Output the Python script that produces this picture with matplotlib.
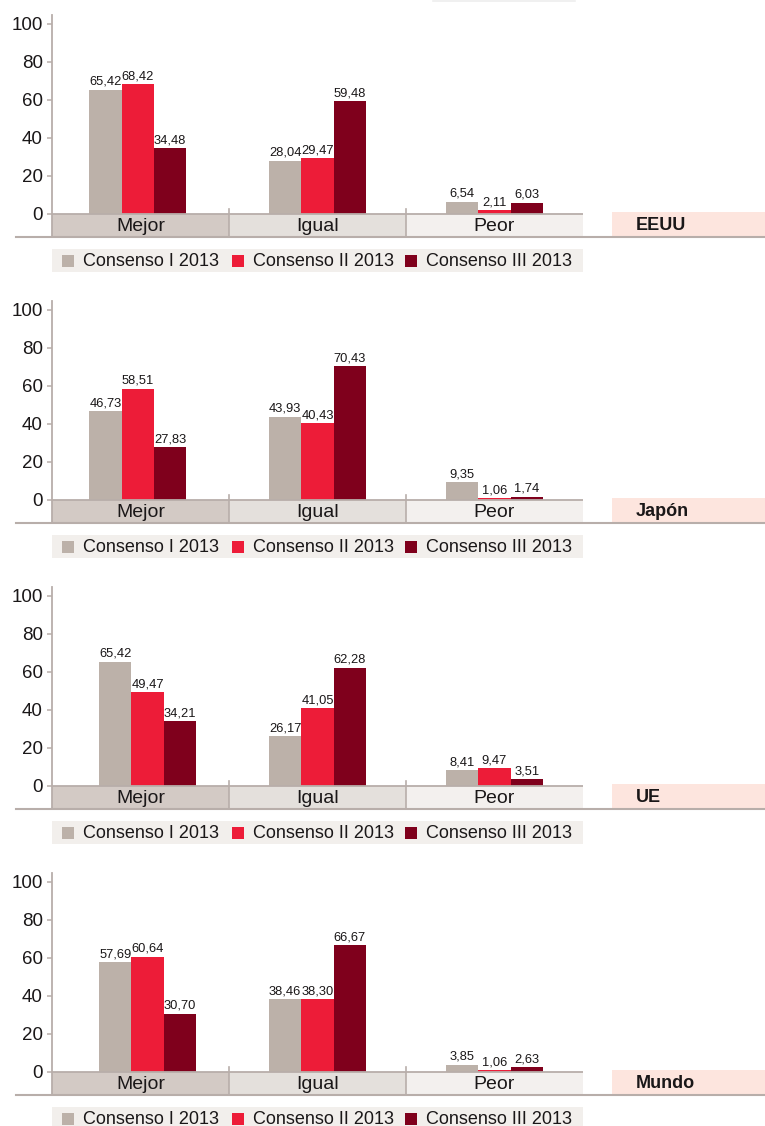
import matplotlib
matplotlib.use("Agg")
import matplotlib.pyplot as plt
from matplotlib.patches import Rectangle
from matplotlib.lines import Line2D

# ---------------- data ----------------
regions = ["EEUU", "Japón", "UE", "Mundo"]
categories = ["Mejor", "Igual", "Peor"]
series = ["Consenso I 2013", "Consenso II 2013", "Consenso III 2013"]
yticks = [0, 20, 40, 60, 80, 100]

eeuu = [[65.42, 28.04, 6.54], [68.42, 29.47, 2.11], [34.48, 59.48, 6.03]]
japon = [[46.73, 43.93, 9.35], [58.51, 40.43, 1.06], [27.83, 70.43, 1.74]]
ue = [[65.42, 26.17, 8.41], [49.47, 41.05, 9.47], [34.21, 62.28, 3.51]]
mundo = [[57.69, 38.46, 3.85], [60.64, 38.30, 1.06], [30.70, 66.67, 2.63]]
panel_values = [eeuu, japon, ue, mundo]

# ---------------- style ----------------
bar_colors = ["#bcb1a9", "#ed1c38", "#7f001c"]
band_colors = ["#d3cac5", "#e4e0dc", "#f3f0ee"]
legend_bg = "#f2efec"
pink = "#fde5de"
axis_gray = "#b8aeaa"
text_col = "#1a1718"
MAIN = ["Liberation Sans", "DejaVu Sans"]

W, H = 765, 1126
fig = plt.figure(figsize=(W / 100, H / 100), dpi=100)
fig.patch.set_facecolor("white")

def fx(px):
    return px / W

def fy(py):
    return 1 - py / H

# faint remnant box at very top
fig.add_artist(Line2D([fx(433), fx(575)], [fy(0.8), fy(0.8)], color="#eeeeee", lw=1.2))

px_per_unit = 1.9
x_left, x_right = 52, 583
group_centers = [[0.485, 1.5, 2.5], [0.485, 1.5, 2.5], [0.54, 1.5, 2.5], [0.54, 1.5, 2.5]]
bw = 0.183

for p, (region, vals) in enumerate(zip(regions, panel_values)):
    y0 = 214 + 286 * p
    top_px = y0 - 199
    bot_px = y0 + 23
    ax = fig.add_axes([fx(x_left), fy(bot_px), fx(x_right - x_left), (bot_px - top_px) / H])
    ylo = -23 / px_per_unit
    yhi = 199 / px_per_unit
    ax.set_xlim(0, 3)
    ax.set_ylim(ylo, yhi)
    ax.patch.set_alpha(0)
    for s in ["top", "right", "bottom"]:
        ax.spines[s].set_visible(False)
    ax.spines["left"].set_color(axis_gray)
    ax.spines["left"].set_linewidth(1.3)
    ax.set_xticks([])
    ax.set_yticks(yticks)
    ax.set_yticklabels([str(t) for t in yticks], fontfamily=MAIN, fontsize=13.5, color=text_col)
    ax.tick_params(axis="y", length=3.5, width=1.1, color=axis_gray, pad=3)

    # category bands
    for i, cat in enumerate(categories):
        ax.add_patch(Rectangle((i, ylo), 1, -ylo, facecolor=band_colors[i], edgecolor="none", zorder=0))
        ax.text(i + 0.5, ylo / 2 - 0.6, cat, ha="center", va="center", fontsize=14,
                family=MAIN, color=text_col)
    for xs in [1, 2]:
        ax.plot([xs, xs], [ylo, 2.7], color=axis_gray, lw=1.2, clip_on=False, zorder=3)
    ax.axhline(0, color=axis_gray, lw=1.3, zorder=3)

    # bars
    centers = group_centers[p]
    for k in range(3):
        xs = [c + (k - 1) * bw for c in centers]
        bars = ax.bar(xs, vals[k], width=bw, color=bar_colors[k], zorder=2, linewidth=0)
        for b, v in zip(bars, vals[k]):
            ax.text(b.get_x() + b.get_width() / 2, v + 1.0, f"{v:.2f}".replace(".", ","),
                    ha="center", va="bottom", fontsize=9.3, family=MAIN, color=text_col)

    # bottom line
    fig.add_artist(Line2D([fx(16), fx(765)], [fy(bot_px), fy(bot_px)], color=axis_gray, lw=1.5))
    # region label box
    fig.add_artist(Rectangle((fx(612), fy(bot_px)), fx(765 - 612), (bot_px - (y0 - 2)) / H,
                             facecolor=pink, edgecolor="none"))
    fig.text(fx(636), fy(y0 + 12), region, ha="left", va="center", fontsize=13,
             fontweight="bold", family=MAIN, color=text_col)

    # legend
    ly_top, ly_bot = y0 + 35, y0 + 58
    fig.add_artist(Rectangle((fx(52), fy(ly_bot)), fx(583 - 52), (ly_bot - ly_top) / H,
                             facecolor=legend_bg, edgecolor="none"))
    lc = (ly_top + ly_bot) / 2
    mk_x = [62, 232, 405]
    for k, name in enumerate(series):
        fig.add_artist(Rectangle((fx(mk_x[k]), fy(lc + 6)), fx(12), 12 / H,
                                 facecolor=bar_colors[k], edgecolor="none"))
        fig.text(fx(mk_x[k] + 21), fy(lc + 0.5), name, ha="left", va="center", fontsize=13,
                 family=MAIN, color=text_col)

fig.savefig("out.png", dpi=100)
